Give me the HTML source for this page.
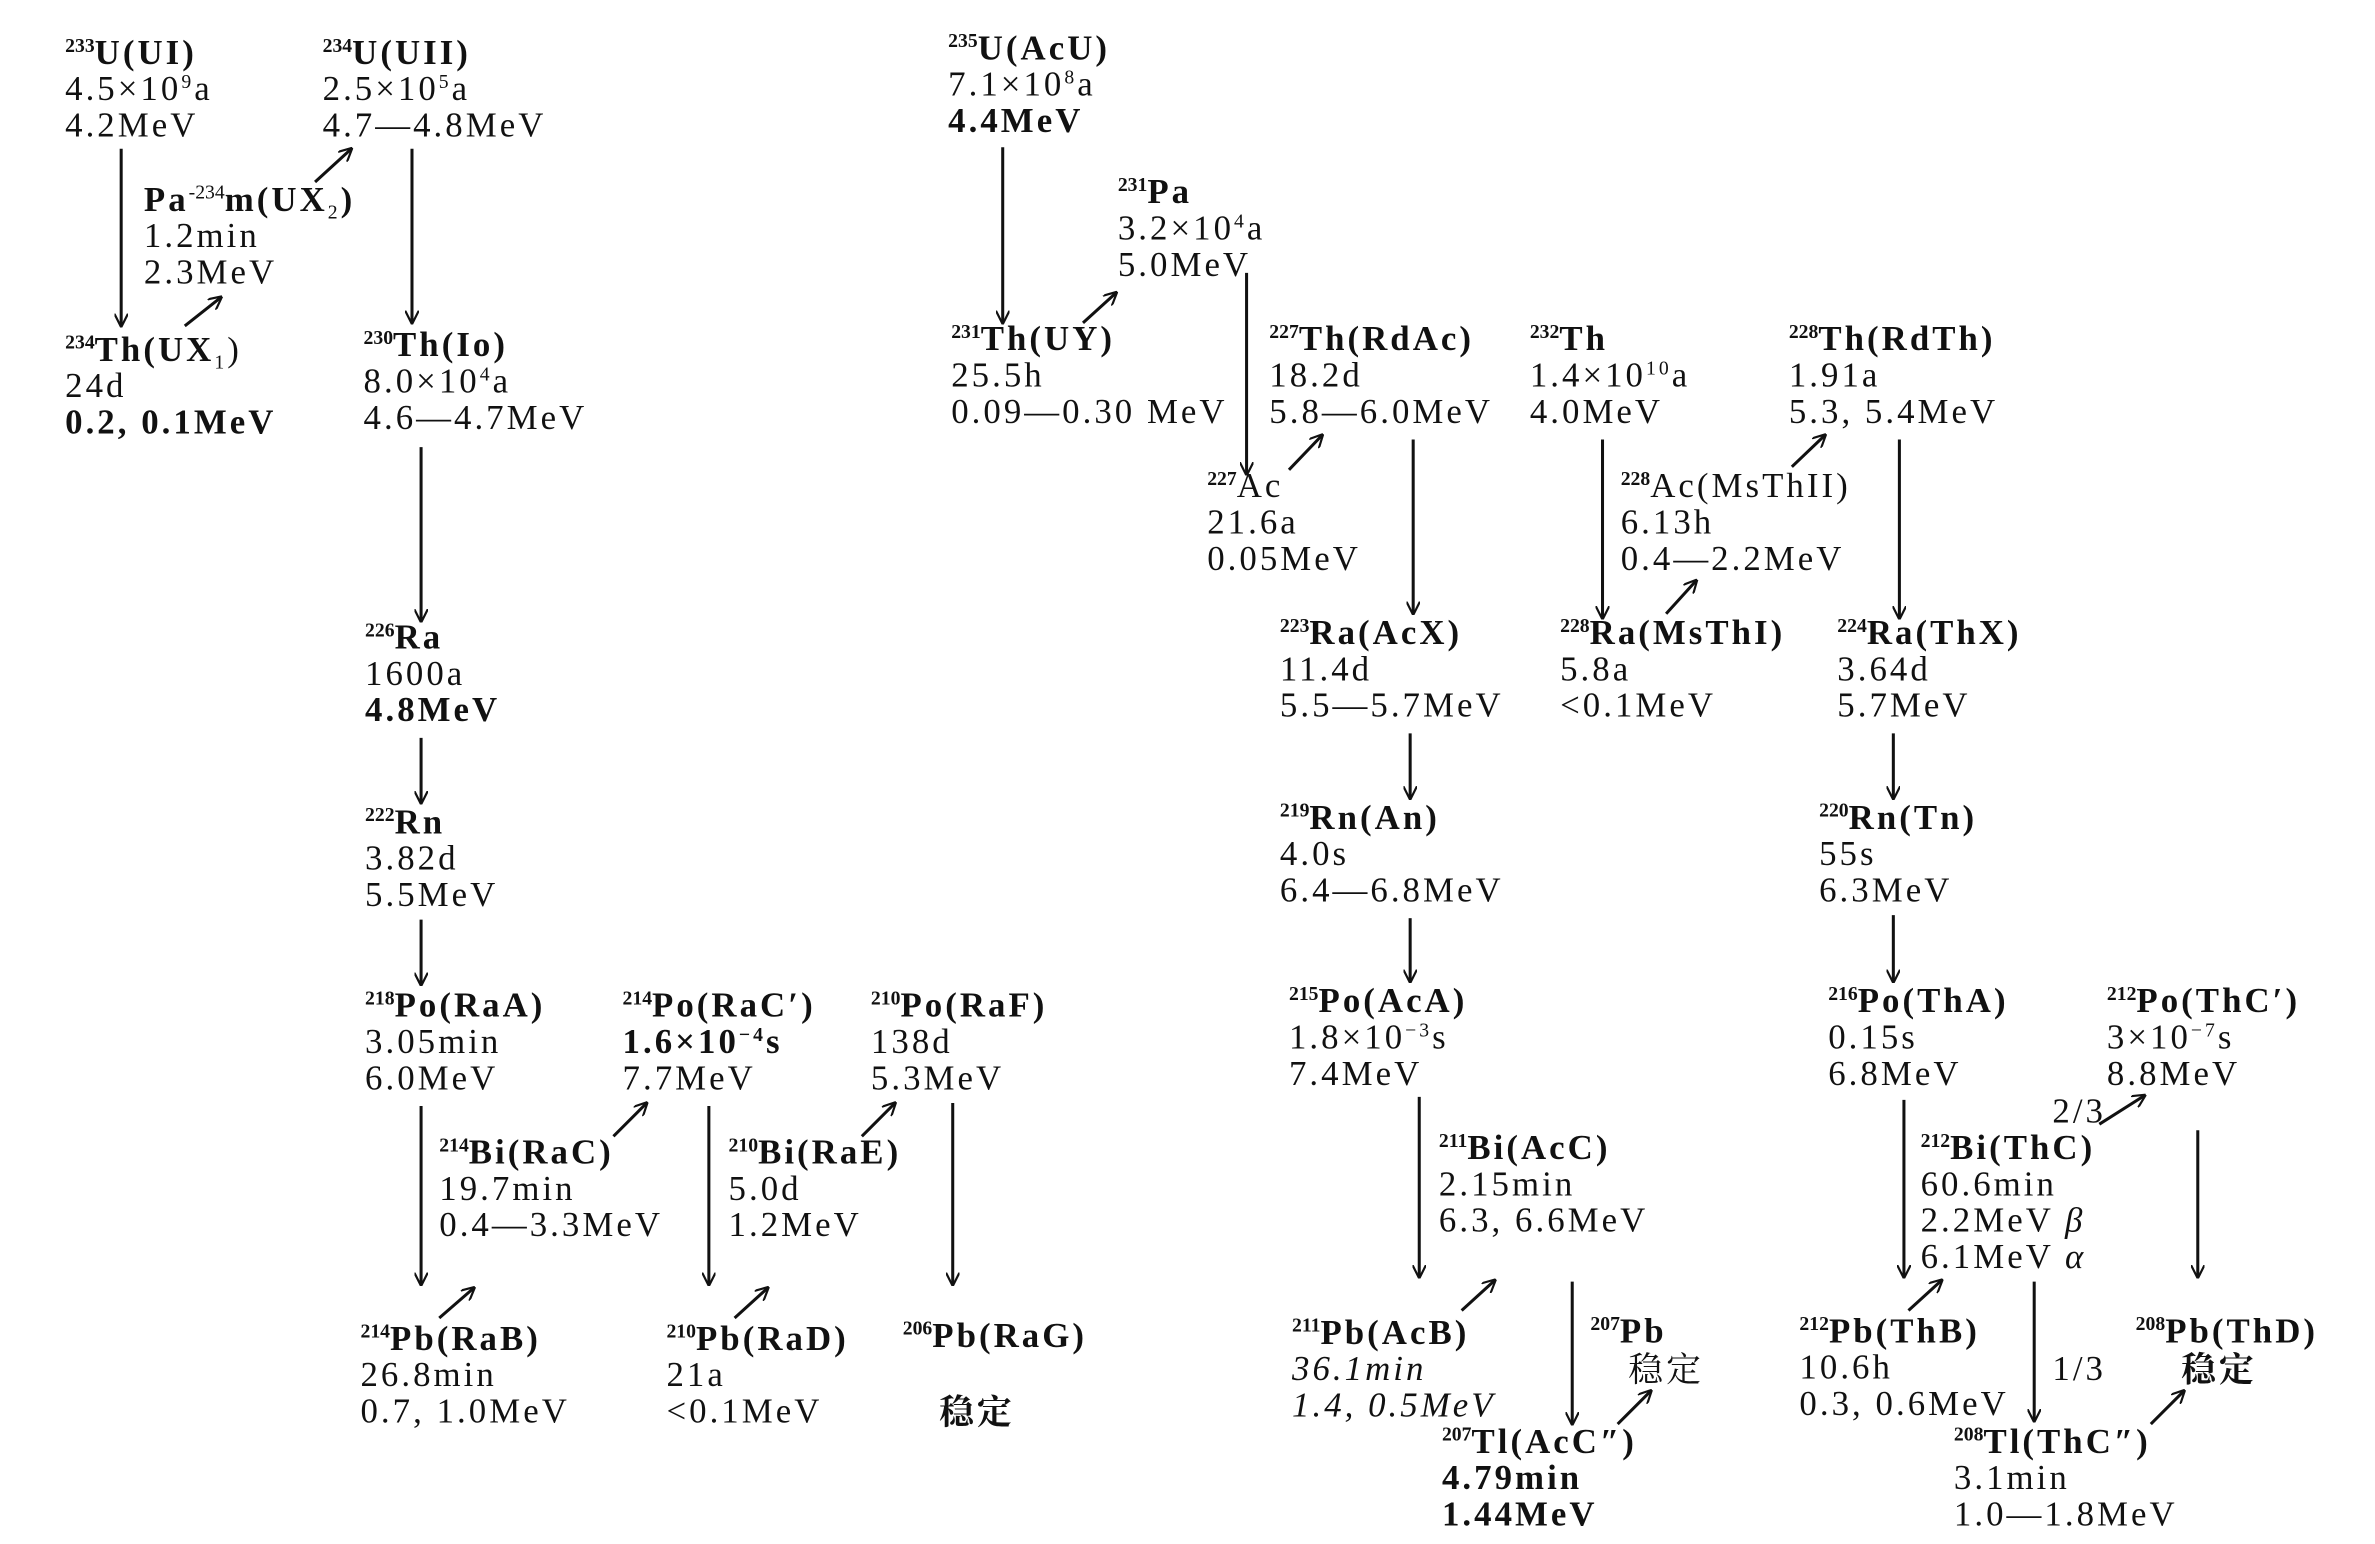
<!DOCTYPE html>
<html><head><meta charset="utf-8"><style>
html,body{margin:0;padding:0;background:#fff;}
svg{display:block;}
text{font-family:"Liberation Serif","Noto Serif CJK SC",serif;font-size:23px;letter-spacing:2px;fill:#111;}
.t{font-weight:bold;}
.m{font-size:13px;font-weight:bold;letter-spacing:0;}
line{stroke:#111;stroke-width:2;}
</style></head><body>
<svg width="2375" height="1544" viewBox="0 0 1568 1019" xmlns="http://www.w3.org/2000/svg">
<defs>
<marker id="a" viewBox="0 0 10 10" refX="9" refY="5" markerWidth="9" markerHeight="9" orient="auto" markerUnits="userSpaceOnUse"><path d="M0,0 L10,5 L0,10" fill="none" stroke="#111" stroke-width="1.6"/></marker>
</defs>

<g transform="translate(43,35)"><text y="7"><tspan class="m" dy="-8">233</tspan><tspan class="t" dy="8">U(UI)</tspan></text><text y="31">4.5×10<tspan font-size="13" dy="-8">9</tspan><tspan dy="8">a</tspan></text><text y="55">4.2MeV</text></g>
<g transform="translate(213,35)"><text y="7"><tspan class="m" dy="-8">234</tspan><tspan class="t" dy="8">U(UII)</tspan></text><text y="31">2.5×10<tspan font-size="13" dy="-8">5</tspan><tspan dy="8">a</tspan></text><text y="55">4.7—4.8MeV</text></g>
<g transform="translate(95,132)"><text y="7"><tspan class="t">Pa</tspan><tspan font-size="13" dy="-8" letter-spacing="0">-234</tspan><tspan class="t" dy="8">m(UX</tspan><tspan font-size="13" dy="5">2</tspan><tspan class="t" dy="-5">)</tspan></text><text y="31">1.2min</text><text y="55">2.3MeV</text></g>
<g transform="translate(43,231)"><text y="7"><tspan class="m" dy="-8">234</tspan><tspan class="t" dy="8">Th(UX</tspan><tspan font-size="13" dy="5">1</tspan><tspan dy="-5">)</tspan></text><text y="31">24d</text><text y="55" class="t">0.2, 0.1MeV</text></g>
<g transform="translate(240,228)"><text y="7"><tspan class="m" dy="-8">230</tspan><tspan class="t" dy="8">Th(Io)</tspan></text><text y="31">8.0×10<tspan font-size="13" dy="-8">4</tspan><tspan dy="8">a</tspan></text><text y="55">4.6—4.7MeV</text></g>
<g transform="translate(241,421)"><text y="7"><tspan class="m" dy="-8">226</tspan><tspan class="t" dy="8">Ra</tspan></text><text y="31">1600a</text><text y="55" class="t">4.8MeV</text></g>
<g transform="translate(241,543)"><text y="7"><tspan class="m" dy="-8">222</tspan><tspan class="t" dy="8">Rn</tspan></text><text y="31">3.82d</text><text y="55">5.5MeV</text></g>
<g transform="translate(241,664)"><text y="7"><tspan class="m" dy="-8">218</tspan><tspan class="t" dy="8">Po(RaA)</tspan></text><text y="31">3.05min</text><text y="55">6.0MeV</text></g>
<g transform="translate(411,664)"><text y="7"><tspan class="m" dy="-8">214</tspan><tspan class="t" dy="8">Po(RaC′)</tspan></text><text y="31" class="t">1.6×10<tspan font-size="13" dy="-8">−4</tspan><tspan dy="8">s</tspan></text><text y="55">7.7MeV</text></g>
<g transform="translate(575,664)"><text y="7"><tspan class="m" dy="-8">210</tspan><tspan class="t" dy="8">Po(RaF)</tspan></text><text y="31">138d</text><text y="55">5.3MeV</text></g>
<g transform="translate(290,761)"><text y="7"><tspan class="m" dy="-8">214</tspan><tspan class="t" dy="8">Bi(RaC)</tspan></text><text y="31">19.7min</text><text y="55">0.4—3.3MeV</text></g>
<g transform="translate(481,761)"><text y="7"><tspan class="m" dy="-8">210</tspan><tspan class="t" dy="8">Bi(RaE)</tspan></text><text y="31">5.0d</text><text y="55">1.2MeV</text></g>
<g transform="translate(238,884)"><text y="7"><tspan class="m" dy="-8">214</tspan><tspan class="t" dy="8">Pb(RaB)</tspan></text><text y="31">26.8min</text><text y="55">0.7, 1.0MeV</text></g>
<g transform="translate(440,884)"><text y="7"><tspan class="m" dy="-8">210</tspan><tspan class="t" dy="8">Pb(RaD)</tspan></text><text y="31">21a</text><text y="55">&lt;0.1MeV</text></g>
<g transform="translate(596,882)"><text y="7"><tspan class="m" dy="-8">206</tspan><tspan class="t" dy="8">Pb(RaG)</tspan></text></g>
<text x="620" y="940" class="t">稳定</text>

<g transform="translate(626,32)"><text y="7"><tspan class="m" dy="-8">235</tspan><tspan class="t" dy="8">U(AcU)</tspan></text><text y="31">7.1×10<tspan font-size="13" dy="-8">8</tspan><tspan dy="8">a</tspan></text><text y="55" class="t">4.4MeV</text></g>
<g transform="translate(738,127)"><text y="7"><tspan class="m" dy="-8">231</tspan><tspan class="t" dy="8">Pa</tspan></text><text y="31">3.2×10<tspan font-size="13" dy="-8">4</tspan><tspan dy="8">a</tspan></text><text y="55">5.0MeV</text></g>
<g transform="translate(628,224)"><text y="7"><tspan class="m" dy="-8">231</tspan><tspan class="t" dy="8">Th(UY)</tspan></text><text y="31">25.5h</text><text y="55">0.09—0.30 MeV</text></g>
<g transform="translate(838,224)"><text y="7"><tspan class="m" dy="-8">227</tspan><tspan class="t" dy="8">Th(RdAc)</tspan></text><text y="31">18.2d</text><text y="55">5.8—6.0MeV</text></g>
<g transform="translate(797,321)"><text y="7"><tspan class="m" dy="-8">227</tspan><tspan dy="8">Ac</tspan></text><text y="31">21.6a</text><text y="55">0.05MeV</text></g>
<g transform="translate(845,418)"><text y="7"><tspan class="m" dy="-8">223</tspan><tspan class="t" dy="8">Ra(AcX)</tspan></text><text y="31">11.4d</text><text y="55">5.5—5.7MeV</text></g>
<g transform="translate(845,540)"><text y="7"><tspan class="m" dy="-8">219</tspan><tspan class="t" dy="8">Rn(An)</tspan></text><text y="31">4.0s</text><text y="55">6.4—6.8MeV</text></g>
<g transform="translate(851,661)"><text y="7"><tspan class="m" dy="-8">215</tspan><tspan class="t" dy="8">Po(AcA)</tspan></text><text y="31">1.8×10<tspan font-size="13" dy="-8">−3</tspan><tspan dy="8">s</tspan></text><text y="55">7.4MeV</text></g>
<g transform="translate(950,758)"><text y="7"><tspan class="m" dy="-8">211</tspan><tspan class="t" dy="8">Bi(AcC)</tspan></text><text y="31">2.15min</text><text y="55">6.3, 6.6MeV</text></g>
<g transform="translate(853,880)"><text y="7"><tspan class="m" dy="-8">211</tspan><tspan class="t" dy="8">Pb(AcB)</tspan></text><text y="31" font-style="italic">36.1min</text><text y="55" font-style="italic">1.4, 0.5MeV</text></g>
<g transform="translate(1050,879)"><text y="7"><tspan class="m" dy="-8">207</tspan><tspan class="t" dy="8">Pb</tspan></text></g>
<text x="1075" y="912">稳定</text>
<g transform="translate(952,952)"><text y="7"><tspan class="m" dy="-8">207</tspan><tspan class="t" dy="8">Tl(AcC″)</tspan></text><text y="31" class="t">4.79min</text><text y="55" class="t">1.44MeV</text></g>

<g transform="translate(1010,224)"><text y="7"><tspan class="m" dy="-8">232</tspan><tspan class="t" dy="8">Th</tspan></text><text y="31">1.4×10<tspan font-size="13" dy="-8">10</tspan><tspan dy="8">a</tspan></text><text y="55">4.0MeV</text></g>
<g transform="translate(1181,224)"><text y="7"><tspan class="m" dy="-8">228</tspan><tspan class="t" dy="8">Th(RdTh)</tspan></text><text y="31">1.91a</text><text y="55">5.3, 5.4MeV</text></g>
<g transform="translate(1070,321)"><text y="7"><tspan class="m" dy="-8">228</tspan><tspan dy="8">Ac(MsThII)</tspan></text><text y="31">6.13h</text><text y="55">0.4—2.2MeV</text></g>
<g transform="translate(1030,418)"><text y="7"><tspan class="m" dy="-8">228</tspan><tspan class="t" dy="8">Ra(MsThI)</tspan></text><text y="31">5.8a</text><text y="55">&lt;0.1MeV</text></g>
<g transform="translate(1213,418)"><text y="7"><tspan class="m" dy="-8">224</tspan><tspan class="t" dy="8">Ra(ThX)</tspan></text><text y="31">3.64d</text><text y="55">5.7MeV</text></g>
<g transform="translate(1201,540)"><text y="7"><tspan class="m" dy="-8">220</tspan><tspan class="t" dy="8">Rn(Tn)</tspan></text><text y="31">55s</text><text y="55">6.3MeV</text></g>
<g transform="translate(1207,661)"><text y="7"><tspan class="m" dy="-8">216</tspan><tspan class="t" dy="8">Po(ThA)</tspan></text><text y="31">0.15s</text><text y="55">6.8MeV</text></g>
<g transform="translate(1391,661)"><text y="7"><tspan class="m" dy="-8">212</tspan><tspan class="t" dy="8">Po(ThC′)</tspan></text><text y="31">3×10<tspan font-size="13" dy="-8">−7</tspan><tspan dy="8">s</tspan></text><text y="55">8.8MeV</text></g>
<g transform="translate(1268,758)"><text y="7"><tspan class="m" dy="-8">212</tspan><tspan class="t" dy="8">Bi(ThC)</tspan></text><text y="31">60.6min</text><text y="55">2.2MeV <tspan font-style="italic">β</tspan></text><text y="79">6.1MeV <tspan font-style="italic">α</tspan></text></g>
<g transform="translate(1188,879)"><text y="7"><tspan class="m" dy="-8">212</tspan><tspan class="t" dy="8">Pb(ThB)</tspan></text><text y="31">10.6h</text><text y="55">0.3, 0.6MeV</text></g>
<g transform="translate(1410,879)"><text y="7"><tspan class="m" dy="-8">208</tspan><tspan class="t" dy="8">Pb(ThD)</tspan></text></g>
<text x="1440" y="912" class="t">稳定</text>
<g transform="translate(1290,952)"><text y="7"><tspan class="m" dy="-8">208</tspan><tspan class="t" dy="8">Tl(ThC″)</tspan></text><text y="31">3.1min</text><text y="55">1.0—1.8MeV</text></g>
<text x="1355" y="741">2/3</text>
<text x="1355" y="911">1/3</text>

<g marker-end="url(#a)">
<line x1="80" y1="98" x2="80" y2="215" stroke-width="1.3"/>
<line x1="272" y1="98" x2="272" y2="213"/>
<line x1="278" y1="295" x2="278" y2="410"/>
<line x1="278" y1="487" x2="278" y2="530"/>
<line x1="278" y1="607" x2="278" y2="650"/>
<line x1="278" y1="730" x2="278" y2="848"/>
<line x1="468" y1="730" x2="468" y2="848"/>
<line x1="629" y1="728" x2="629" y2="848"/>
<line x1="662" y1="97" x2="662" y2="213"/>
<line x1="823" y1="180" x2="823" y2="313"/>
<line x1="933" y1="290" x2="933" y2="405"/>
<line x1="931" y1="484" x2="931" y2="527"/>
<line x1="931" y1="606" x2="931" y2="648"/>
<line x1="937" y1="724" x2="937" y2="843"/>
<line x1="1058" y1="290" x2="1058" y2="408"/>
<line x1="1254" y1="290" x2="1254" y2="408"/>
<line x1="1250" y1="484" x2="1250" y2="527"/>
<line x1="1250" y1="604" x2="1250" y2="648"/>
<line x1="1257" y1="726" x2="1257" y2="843"/>
<line x1="1343" y1="846" x2="1343" y2="938"/>
<line x1="1451" y1="746" x2="1451" y2="843"/>
<line x1="1038" y1="846" x2="1038" y2="940"/>
</g>
<g marker-end="url(#a)">
<line x1="208" y1="120" x2="232" y2="98" stroke-width="1.4"/>
<line x1="122" y1="215" x2="146" y2="196" stroke-width="1.4"/>
<line x1="715" y1="213" x2="737" y2="193" stroke-width="1.4"/>
<line x1="851" y1="310" x2="873" y2="287" stroke-width="1.4"/>
<line x1="1183" y1="308" x2="1205" y2="287" stroke-width="1.4"/>
<line x1="1100" y1="405" x2="1120" y2="383" stroke-width="1.4"/>
<line x1="405" y1="750" x2="427" y2="728" stroke-width="1.4"/>
<line x1="569" y1="750" x2="591" y2="728" stroke-width="1.4"/>
<line x1="290" y1="870" x2="313" y2="850" stroke-width="1.4"/>
<line x1="485" y1="870" x2="507" y2="850" stroke-width="1.4"/>
<line x1="965" y1="865" x2="987" y2="845" stroke-width="1.4"/>
<line x1="1068" y1="940" x2="1090" y2="918" stroke-width="1.4"/>
<line x1="1260" y1="865" x2="1282" y2="845" stroke-width="1.4"/>
<line x1="1420" y1="940" x2="1442" y2="918" stroke-width="1.4"/>
<line x1="1386" y1="742" x2="1416" y2="723" stroke-width="1.4"/>
</g>
</svg>
</body></html>
